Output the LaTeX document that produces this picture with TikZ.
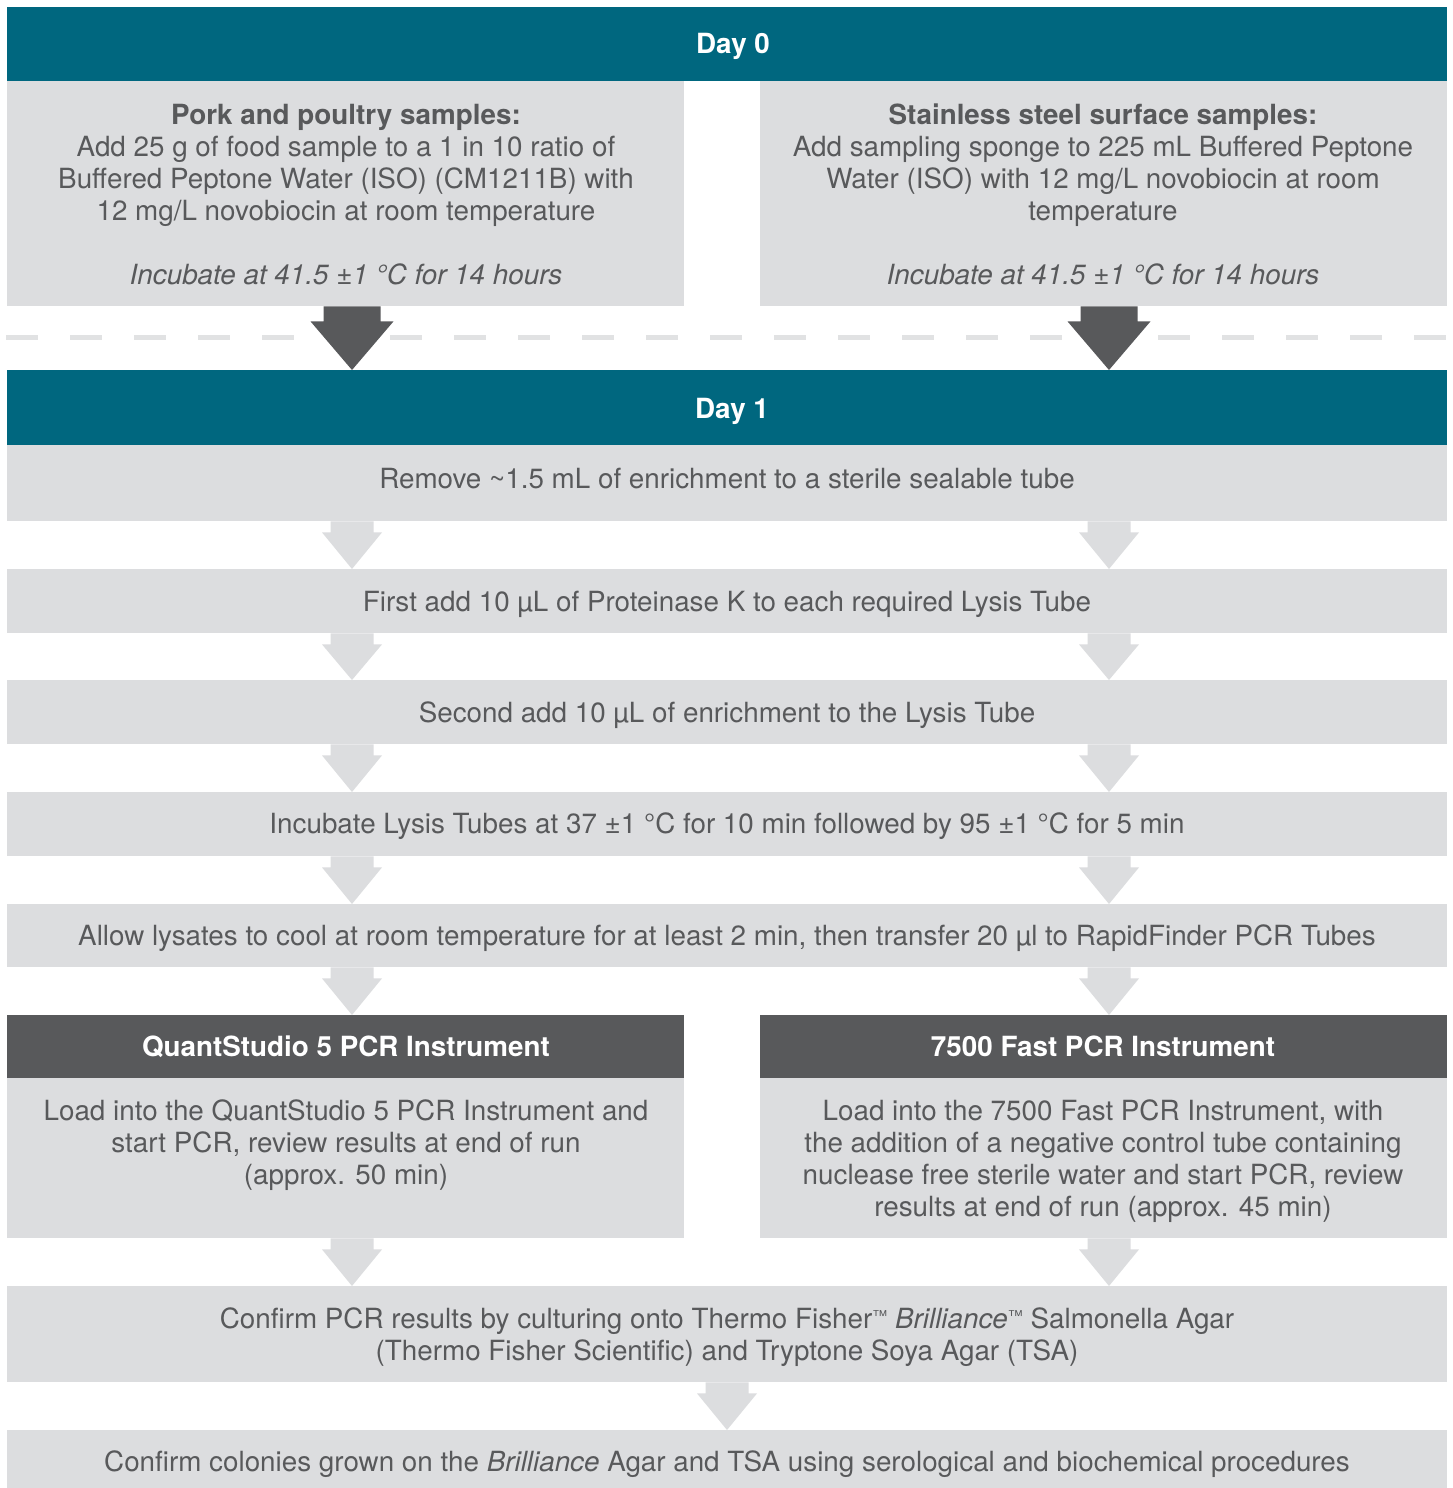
\documentclass[tikz,border=0pt]{standalone}
\usepackage{fontspec}
\setmainfont{TeX Gyre Heros}
\usetikzlibrary{calc}
\definecolor{teal0}{HTML}{00677F}
\definecolor{boxg}{HTML}{DCDDDF}
\definecolor{darkg}{HTML}{58595B}
\definecolor{txtg}{HTML}{58595B}
\definecolor{dashg}{HTML}{E1E2E3}
\newcommand\blockarrow[7]{%
  \fill[#1] let \p1=(#2.south), \p2=(#3.north) in
    ({#4pt-#5pt},\y1) -- ({#4pt+#5pt},\y1) -- ({#4pt+#5pt},\y1-#7pt) --
    ({#4pt+#6pt},\y1-#7pt) -- (#4pt,\y2) -- ({#4pt-#6pt},\y1-#7pt) --
    ({#4pt-#5pt},\y1-#7pt) -- cycle;}
\newcommand\fs{\fontsize{27.8}{32}\selectfont}
\newcommand\smalltm{\raisebox{7pt}{\fontsize{15}{15}\selectfont ™}}
\tikzset{
  panel/.style={inner sep=0pt, anchor=north west, fill=boxg},
  tealbox/.style={panel, fill=teal0},
  darkbox/.style={panel, fill=darkg},
  bodytext/.style={inner sep=0pt, anchor=base, align=center, text=txtg, font=\fs},
  headtext/.style={inner sep=0pt, anchor=base, align=center, text=white, font=\fs\bfseries},
  lightarrow/.style={fill=boxg},
  darkarrow/.style={fill=darkg}
}
\begin{document}
\begin{tikzpicture}[x=1pt,y=-1pt]
\useasboundingbox[fill=white] (0,0) rectangle (1453,1488);
% Day 0
\node[tealbox, minimum width=1440pt, minimum height=74pt] (h0) at (7,7) {};
\node[headtext] (h0t) at (733,53) {Day 0};
\node[panel, minimum width=677pt, minimum height=225pt] (l0) at (7,81) {};
\node[panel, minimum width=687pt, minimum height=225pt] (r0) at (760,81) {};
\node[bodytext] (l0t) at (346,284) {\textbf{Pork and poultry samples:}\\
  Add 25 g of food sample to a 1 in 10 ratio of\\
  Buffered Peptone Water (ISO) (CM1211B) with\\
  12 mg/L novobiocin at room temperature\\[32pt]
  \textit{Incubate at 41.5 ±1 °C for 14 hours}};
\node[bodytext] (r0t) at (1103,284) {\textbf{Stainless steel surface samples:}\\
  Add sampling sponge to 225 mL Buffered Peptone\\
  Water (ISO) with 12 mg/L novobiocin at room\\
  temperature\\[32pt]
  \textit{Incubate at 41.5 ±1 °C for 14 hours}};
% dashed separator
\coordinate (dl) at (6,337);
\coordinate (dr) at (1447,337);
\draw[dashg, line width=5pt, dash pattern=on 32pt off 32pt] (dl) -- (dr);
% Day 1
\node[tealbox, minimum width=1440pt, minimum height=75pt] (h1) at (7,370) {};
\node[headtext] (h1t) at (732,418) {Day 1};
\blockarrow{darkarrow}{l0}{h1}{352}{28.5}{41.5}{15}
\blockarrow{darkarrow}{r0}{h1}{1109}{28.5}{41.5}{15}
\node[panel, minimum width=1440pt, minimum height=76pt] (b1) at (7,445) {};
\node[bodytext] (b1t) at (727,488) {Remove \textasciitilde1.5 mL of enrichment to a sterile sealable tube};
\node[panel, minimum width=1440pt, minimum height=64pt] (b2) at (7,569) {};
\node[bodytext] (b2t) at (727,611) {First add 10 µL of Proteinase K to each required Lysis Tube};
\node[panel, minimum width=1440pt, minimum height=64pt] (b3) at (7,680) {};
\node[bodytext] (b3t) at (727,722) {Second add 10 µL of enrichment to the Lysis Tube};
\node[panel, minimum width=1440pt, minimum height=64pt] (b4) at (7,792) {};
\node[bodytext] (b4t) at (727,833) {Incubate Lysis Tubes at 37 ±1 °C for 10 min followed by 95 ±1 °C for 5 min};
\node[panel, minimum width=1440pt, minimum height=63pt] (b5) at (7,904) {};
\node[bodytext] (b5t) at (727,945) {Allow lysates to cool at room temperature for at least 2 min, then transfer 20 µl to RapidFinder PCR Tubes};
\node[darkbox, minimum width=677pt, minimum height=63pt] (d1) at (7,1015) {};
\node[headtext] (d1t) at (346,1056) {QuantStudio 5 PCR Instrument};
\node[darkbox, minimum width=687pt, minimum height=63pt] (d2) at (760,1015) {};
\node[headtext] (d2t) at (1103,1056) {7500 Fast PCR Instrument};
\node[panel, minimum width=677pt, minimum height=160pt] (g1) at (7,1078) {};
\node[panel, minimum width=687pt, minimum height=160pt] (g2) at (760,1078) {};
\node[bodytext] (g1t) at (346,1184) {Load into the QuantStudio 5 PCR Instrument and\\
  start PCR, review results at end of run\\ (approx. 50 min)};
\node[bodytext] (g2t) at (1103,1216) {Load into the 7500 Fast PCR Instrument, with\\
  the addition of a negative control tube containing\\
  nuclease free sterile water and start PCR, review\\
  results at end of run (approx. 45 min)};
\node[panel, minimum width=1440pt, minimum height=96pt] (b6) at (7,1286) {};
\node[bodytext] (b6t) at (727,1360) {Confirm PCR results by culturing onto Thermo Fisher\smalltm{} \textit{Brilliance}\smalltm{} Salmonella Agar\\
  (Thermo Fisher Scientific) and Tryptone Soya Agar (TSA)};
\node[panel, minimum width=1440pt, minimum height=64pt] (b7) at (7,1430) {};
\node[bodytext] (b7t) at (727,1471) {Confirm colonies grown on the \textit{Brilliance} Agar and TSA using serological and biochemical procedures};
% light arrows
\foreach \a/\b in {b1/b2, b2/b3, b3/b4, b4/b5, b5/d1} {
  \blockarrow{lightarrow}{\a}{\b}{352}{21.5}{30}{11}
}
\foreach \a/\b in {b1/b2, b2/b3, b3/b4, b4/b5, b5/d2} {
  \blockarrow{lightarrow}{\a}{\b}{1109}{21.5}{30}{11}
}
\blockarrow{lightarrow}{g1}{b6}{352}{21.5}{30}{11}
\blockarrow{lightarrow}{g2}{b6}{1109}{21.5}{30}{11}
\blockarrow{lightarrow}{b6}{b7}{727}{21.5}{30}{11}
\end{tikzpicture}
\end{document}
